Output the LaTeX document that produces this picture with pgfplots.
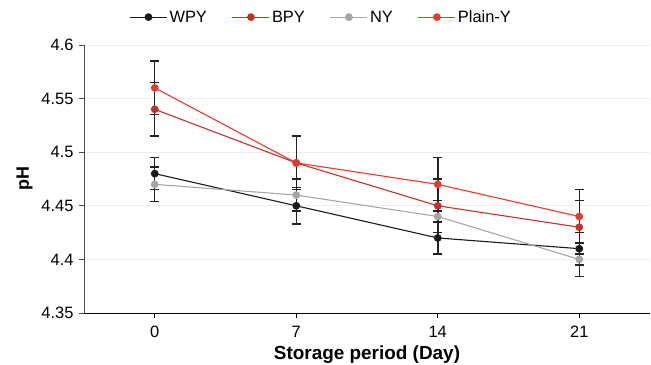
\documentclass[border=0pt]{standalone}
\usepackage{pgfplots}
\pgfplotsset{compat=1.18}
\usepackage{fontspec}
\setmainfont{Liberation Sans}
\definecolor{wpy}{HTML}{1A1A1A}
\definecolor{bpy}{HTML}{C4302A}
\definecolor{ny}{HTML}{A6A6A6}
\definecolor{plainy}{HTML}{E8392C}
\definecolor{errc}{HTML}{222222}
\begin{document}
\begin{tikzpicture}[x=1bp,y=1bp]
\useasboundingbox (-84bp,-52bp) rectangle (567bp,313bp);
\begin{axis}[
  scale only axis,
  width=566bp, height=268bp,
  xmin=-0.5, xmax=3.5,
  ymin=4.35, ymax=4.6,
  xtick={0,1,2,3}, xticklabels={0,7,14,21},
  ytick={4.35,4.4,4.45,4.5,4.55,4.6},
  yticklabels={4.35,4.4,4.45,4.5,4.55,4.6},
  axis x line*=bottom, axis y line*=left,
  x axis line style={black, line width=0.9pt, -},
  y axis line style={black!70, line width=0.9pt, -},
  xtick style={black, line width=0.6pt},
  ytick style={black!70, line width=0.9pt},
  tick align=outside,
  major tick length=5bp,
  ymajorgrids, grid style={black!7, line width=0.8pt},
  tick label style={font=\fontsize{16.5}{18}\selectfont},
  /pgf/number format/assume math mode=true,
  xticklabel style={yshift=-5bp},
  yticklabel style={xshift=-2bp},
  xlabel={\fontsize{19}{21}\selectfont\bfseries Storage period (Day)},
  ylabel={\fontsize{18}{20}\selectfont\bfseries pH},
  xlabel style={at={(axis description cs:0.5,0)}, anchor=north, yshift=-29bp},
  ylabel style={at={(axis description cs:0,0.5)}, anchor=south, yshift=48bp},
  legend style={at={(0.419,1)}, anchor=south, yshift=17bp, draw=none, fill=none,
    legend columns=4, font=\fontsize{16.5}{18}\selectfont,
    /tikz/every even column/.append style={column sep=23bp}},
  legend image code/.code={\draw[mark repeat=2,mark phase=2] plot coordinates {(0bp,0bp) (18.5bp,0bp) (37bp,0bp)};},
  every axis plot/.append style={line width=1.1pt},
  clip=false,
]
% error bars
\addplot[forget plot, draw=none, mark=none, error bars/.cd, y dir=both, y explicit,
  error bar style={draw=errc, line width=1.5pt}, error mark options={draw=errc, rotate=90, mark size=4.7bp, line width=1.5pt}]
  coordinates {(0,4.48) +- (0,0.015) (1,4.45) +- (0,0.017) (2,4.42) +- (0,0.015) (3,4.41) +- (0,0.015)};
\addplot[forget plot, draw=none, mark=none, error bars/.cd, y dir=both, y explicit,
  error bar style={draw=errc, line width=1.5pt}, error mark options={draw=errc, rotate=90, mark size=4.7bp, line width=1.5pt}]
  coordinates {(0,4.54) +- (0,0.025) (1,4.49) +- (0,0.025) (2,4.45) +- (0,0.025) (3,4.43) +- (0,0.025)};
\addplot[forget plot, draw=none, mark=none, error bars/.cd, y dir=both, y explicit,
  error bar style={draw=errc, line width=1.5pt}, error mark options={draw=errc, rotate=90, mark size=4.7bp, line width=1.5pt}]
  coordinates {(0,4.47) +- (0,0.016) (1,4.46) +- (0,0.015) (2,4.44) +- (0,0.015) (3,4.40) +- (0,0.016)};
\addplot[forget plot, draw=none, mark=none, error bars/.cd, y dir=both, y explicit,
  error bar style={draw=errc, line width=1.5pt}, error mark options={draw=errc, rotate=90, mark size=4.7bp, line width=1.5pt}]
  coordinates {(0,4.56) +- (0,0.025) (1,4.49) +- (0,0.025) (2,4.47) +- (0,0.025) (3,4.44) +- (0,0.025)};
% lines
\addplot[wpy, mark=*, mark size=3.3bp, mark options={fill=wpy, draw=wpy}]
  coordinates {(0,4.48) (1,4.45) (2,4.42) (3,4.41)};
\addlegendentry{WPY}
\addplot[bpy, mark=*, mark size=3.3bp, mark options={fill=bpy, draw=bpy}]
  coordinates {(0,4.54) (1,4.49) (2,4.45) (3,4.43)};
\addlegendentry{BPY}
\addplot[ny, mark=*, mark size=3.3bp, mark options={fill=ny, draw=ny}]
  coordinates {(0,4.47) (1,4.46) (2,4.44) (3,4.40)};
\addlegendentry{NY}
\addplot[plainy, mark=*, mark size=3.3bp, mark options={fill=plainy, draw=plainy}]
  coordinates {(0,4.56) (1,4.49) (2,4.47) (3,4.44)};
\addlegendentry{Plain-Y}
\end{axis}
\end{tikzpicture}
\end{document}
